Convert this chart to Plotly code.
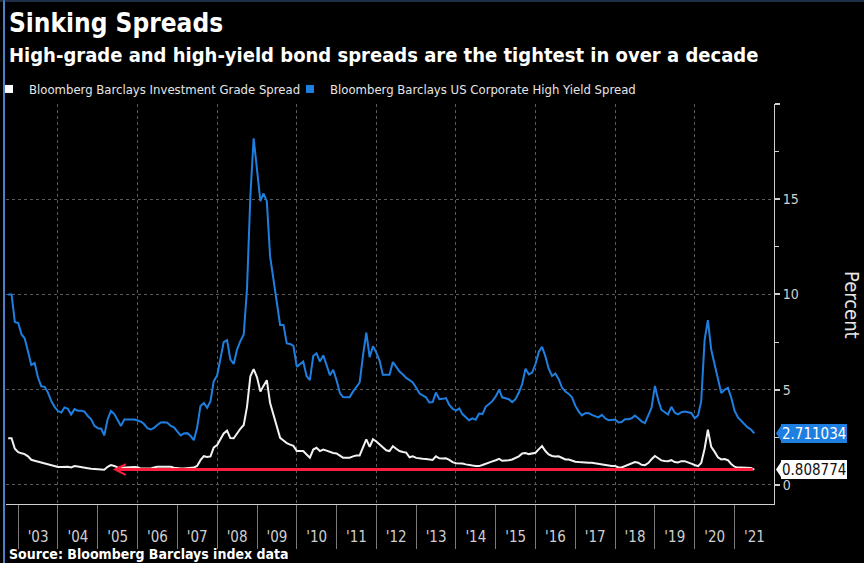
import pandas as pd
import plotly.graph_objects as go

# ---------------- data (monthly) ----------------
start_month = "2002-10-01"

hy_spread = [
    10.0, 10.0, 8.56,
    8.5, 7.9, 7.7, 7.0, 6.3, 6.4, 5.65, 5.18, 5.15, 4.85, 4.4, 4.1,
    3.88, 3.8, 4.07, 4.0, 3.7, 3.98, 3.9, 3.9, 3.85, 3.62, 3.45, 3.1,
    2.98, 2.95, 2.6, 3.45, 3.88, 3.72, 3.45, 3.1, 3.43, 3.43, 3.43, 3.43,
    3.38, 3.32, 3.2, 2.98, 2.91, 3.0, 3.15, 3.28, 3.29, 3.27, 3.1, 3.02,
    2.8, 2.6, 2.7, 2.72, 2.58, 2.35, 3.0, 4.15, 4.3, 4.05, 4.4, 5.45,
    5.75, 6.7, 7.5, 7.6, 6.6, 6.35, 7.1, 7.55, 7.9, 10.3, 15.2, 18.2,
    16.5, 14.9, 15.3, 14.9, 12.0, 10.7, 9.5, 8.4, 8.4, 7.43, 7.4, 7.3,
    6.2, 6.35, 6.48, 5.72, 5.5, 6.77, 6.91, 6.48, 6.8, 6.3, 5.76, 6.05,
    5.5, 4.82, 4.62, 4.61, 4.61, 4.9, 5.15, 5.38, 6.8, 7.99, 6.7, 7.28,
    6.95, 6.5, 5.78, 5.78, 5.78, 6.45, 6.2, 5.95, 5.8, 5.62, 5.5, 5.38,
    5.1, 4.8, 4.7, 4.6, 4.33, 4.35, 4.85, 4.5, 4.52, 4.56, 4.2, 4.0,
    3.9, 4.02, 3.72, 3.55, 3.4, 3.5, 3.42, 3.75, 3.72, 4.1, 4.23, 4.4,
    4.65, 5.0, 4.6, 4.55, 4.5, 4.35, 4.5, 4.85, 5.3, 6.1, 5.8, 5.9,
    6.35, 7.0, 7.25, 6.75, 6.1, 5.72, 5.85, 5.55, 5.1, 4.9, 4.78, 4.6,
    4.15, 3.85, 3.65, 3.77, 3.78, 3.68, 3.6, 3.55, 3.68, 3.5, 3.4, 3.4,
    3.43, 3.28, 3.3, 3.45, 3.45, 3.5, 3.64, 3.5, 3.34, 3.25, 3.62, 4.05,
    5.2, 4.45, 3.95, 3.82, 3.7, 4.1, 3.8, 3.71, 3.82, 3.85, 3.8, 3.78,
    3.5, 3.65, 4.4, 7.6, 8.65, 7.1, 6.35, 5.55, 4.82, 5.0, 5.1, 4.6,
    3.9, 3.55, 3.37, 3.2, 3.02, 2.91, 2.711034,
]

ig_spread = [
    2.45, 2.45, 1.9,
    1.72, 1.66, 1.62, 1.5, 1.32, 1.27, 1.22, 1.17, 1.12, 1.06, 1.01, 0.96,
    0.94, 0.94, 0.94, 0.96, 0.92, 0.99, 0.97, 0.95, 0.91, 0.88, 0.85, 0.83,
    0.81, 0.79, 0.8, 0.95, 1.04, 1.0, 0.92, 0.9, 0.92, 0.93, 0.92, 0.94,
    0.93, 0.86, 0.86, 0.86, 0.87, 0.92, 0.96, 0.96, 0.96, 0.96, 0.95, 0.9,
    0.86, 0.86, 0.87, 0.89, 0.91, 0.91, 1.0, 1.3, 1.51, 1.47, 1.5, 1.97,
    2.1, 2.4, 2.7, 2.85, 2.46, 2.45, 2.72, 2.95, 3.15, 4.1, 5.7, 6.08,
    5.65, 4.9, 5.2, 5.5, 4.3, 3.7, 3.0, 2.47, 2.33, 2.2, 2.12, 2.05,
    1.78, 1.78, 1.78, 1.6, 1.43, 1.86, 1.95, 1.78, 1.86, 1.8, 1.72, 1.68,
    1.65, 1.55, 1.43, 1.43, 1.43, 1.5, 1.55, 1.55, 2.0, 2.39, 2.0, 2.4,
    2.28, 2.13, 1.95, 1.82, 1.78, 2.03, 1.9, 1.78, 1.73, 1.7, 1.45, 1.5,
    1.42, 1.38, 1.37, 1.36, 1.34, 1.31, 1.5, 1.4, 1.39, 1.4, 1.32, 1.2,
    1.14, 1.13, 1.13, 1.08, 1.04, 1.02, 1.0, 0.99, 1.05, 1.1, 1.18, 1.24,
    1.3, 1.37, 1.27, 1.28, 1.3, 1.34, 1.4, 1.5, 1.65, 1.68, 1.62, 1.65,
    1.69, 1.88, 2.04, 1.78, 1.6, 1.52, 1.49, 1.5, 1.4, 1.34, 1.34, 1.28,
    1.22, 1.2, 1.18, 1.17, 1.17, 1.17, 1.14, 1.1, 1.08, 1.05, 1.0, 0.99,
    0.99, 0.92, 0.92, 1.0, 1.07, 1.14, 1.2, 1.17, 1.06, 1.04, 1.15, 1.35,
    1.52, 1.4, 1.29, 1.26, 1.25, 1.3, 1.2, 1.18, 1.25, 1.25, 1.2, 1.12,
    1.05, 0.99, 1.15, 1.9, 2.9, 2.0, 1.75, 1.45, 1.34, 1.36, 1.3, 1.1,
    0.96, 0.91, 0.91, 0.9, 0.9, 0.89, 0.808774,
]

ig_name = "Bloomberg Barclays Investment Grade Spread"
hy_name = "Bloomberg Barclays US Corporate High Yield Spread"
arrow_tip_date = "2005-05-18"      # where the red "tightest" arrow points back to
x_range = ["2002-09-11", "2021-12-29"]
y_range = [-1, 20]
y_ticks = [0, 5, 10, 15, 20]
y_ticktext = ["0", "5", "10", "15", ""]
y_minor = [2.5, 7.5, 12.5, 17.5]

dates = pd.date_range(start_month, periods=len(hy_spread), freq="MS")

# ---------------- styling ----------------
FONT = "Liberation Sans Narrow, DejaVu Sans Condensed, Arial Narrow, Liberation Sans, sans-serif"
BLUE = "#1f7fe0"
WHITE = "#f2f2f2"
RED = "#ff1f3d"
GRID = "#5a5a5a"
AX = "#cfcfcf"

fig = go.Figure()

fig.add_trace(go.Scatter(x=dates, y=ig_spread, mode="lines", name=ig_name,
                         line=dict(color=WHITE, width=2), showlegend=False,
                         xaxis="x", yaxis="y"))
fig.add_trace(go.Scatter(x=dates, y=hy_spread, mode="lines", name=hy_name,
                         line=dict(color=BLUE, width=2), showlegend=False,
                         xaxis="x2", yaxis="y"))
# legend entries with square swatches
fig.add_trace(go.Scatter(x=[None], y=[None], mode="markers", name=ig_name,
                         marker=dict(symbol="square", size=8, color="white"),
                         legendwidth=256))
fig.add_trace(go.Scatter(x=[None], y=[None], mode="markers", name=hy_name,
                         marker=dict(symbol="square", size=8, color=BLUE)))

PL, PR, PT, PB = 6, 90, 104, 59
W, H = 864, 563
pw = W - PL - PR
ph = H - PT - PB


def px_x(px):
    return (px - PL) / pw


def px_y(py):
    return (H - PB - py) / ph


fig.update_layout(
    width=W, height=H,
    margin=dict(l=PL, r=PR, t=PT, b=PB, pad=0, autoexpand=False),
    paper_bgcolor="black", plot_bgcolor="black",
    font=dict(family=FONT, color=AX, size=15),
    showlegend=True,
    legend=dict(orientation="h", x=px_x(-11), xanchor="left", y=px_y(89), yanchor="middle",
                bgcolor="rgba(0,0,0,0)", font=dict(size=13, color="#e6e6e6"),
                itemclick=False, tracegroupgap=0),
    xaxis=dict(type="date", range=x_range, dtick="M12", tick0="2003-01-01",
               ticklabelmode="period", tickformat="'%y",
               ticks="outside", ticklen=44, tickwidth=1, tickcolor="#7a7a7a",
               ticklabelstandoff=-25,
               showgrid=False, zeroline=False, showline=True, linecolor=AX, linewidth=1,
               tickfont=dict(size=15, color=AX)),
    xaxis2=dict(type="date", overlaying="x", matches="x", range=x_range,
                dtick="M24", tick0="2004-01-01", showgrid=True, gridcolor=GRID,
                griddash="dot", gridwidth=1, showticklabels=False, ticks="",
                zeroline=False, showline=False),
    yaxis=dict(side="right", range=y_range, tickvals=y_ticks, ticktext=y_ticktext,
               showgrid=True, gridcolor=GRID, griddash="dot", gridwidth=1,
               zeroline=False, showline=True, linecolor=AX, linewidth=1,
               ticks="outside", ticklen=5, tickwidth=2, tickcolor=AX,
               tickfont=dict(size=14, color=AX),
               minor=dict(tickvals=y_minor, ticks="outside", ticklen=4,
                          tickwidth=1, tickcolor=AX, showgrid=False)),
)

# red arrow from the latest IG level back to 2005
fig.add_annotation(x=arrow_tip_date, y=ig_spread[-1], ax=dates[-1], ay=ig_spread[-1],
                   xref="x", yref="y", axref="x", ayref="y", text="",
                   showarrow=True, arrowhead=5, arrowsize=0.7, arrowwidth=3,
                   arrowcolor=RED, standoff=0, startstandoff=0)

# end-value tags on the right axis
half = 9 / ph * (y_range[1] - y_range[0])
for val, bg, fg in [(hy_spread[-1], BLUE, "white"), (ig_spread[-1], "white", "#111111")]:
    fig.add_shape(type="path", xref="paper", yref="y",
                  path=f"M {px_x(776)},{val} L {px_x(782)},{val + half} "
                       f"L {px_x(782)},{val - half} Z",
                  fillcolor=bg, line=dict(width=0), layer="above")
    fig.add_annotation(x=px_x(781), y=val, xref="paper", yref="y",
                       xanchor="left", yanchor="middle", showarrow=False,
                       text=f"{val:.6f}", font=dict(size=15, color=fg), height=17,
                       bgcolor=bg, borderpad=1, bordercolor=bg, borderwidth=0)

# titles and notes
fig.add_annotation(x=px_x(7), y=px_y(23), xref="paper", yref="paper", xanchor="left",
                   yanchor="middle", showarrow=False, text="<b>Sinking Spreads</b>",
                   font=dict(size=26, color="white"))
fig.add_annotation(x=px_x(7), y=px_y(55), xref="paper", yref="paper", xanchor="left",
                   yanchor="middle", showarrow=False,
                   text="<b>High-grade and high-yield bond spreads are the tightest in over a decade</b>",
                   font=dict(size=20, color="white"))
fig.add_annotation(x=px_x(7), y=px_y(554), xref="paper", yref="paper", xanchor="left",
                   yanchor="middle", showarrow=False,
                   text="<b>Source: Bloomberg Barclays index data</b>",
                   font=dict(size=14, color="white"))
fig.add_annotation(x=px_x(852), y=px_y(305), xref="paper", yref="paper",
                   xanchor="center", yanchor="middle", showarrow=False, textangle=90,
                   text="Percent", font=dict(size=20, color="#e6e6e6"))

# thin blue frame edges, as in the source screenshot
fig.add_shape(type="line", xref="paper", yref="paper", x0=px_x(4), x1=px_x(4),
              y0=px_y(0), y1=px_y(H), line=dict(color="#4f7fc6", width=2))
fig.add_shape(type="line", xref="paper", yref="paper", x0=px_x(0), x1=px_x(W),
              y0=px_y(1), y1=px_y(1), line=dict(color="#3d5f8f", width=1))

fig.write_html("out.html")
